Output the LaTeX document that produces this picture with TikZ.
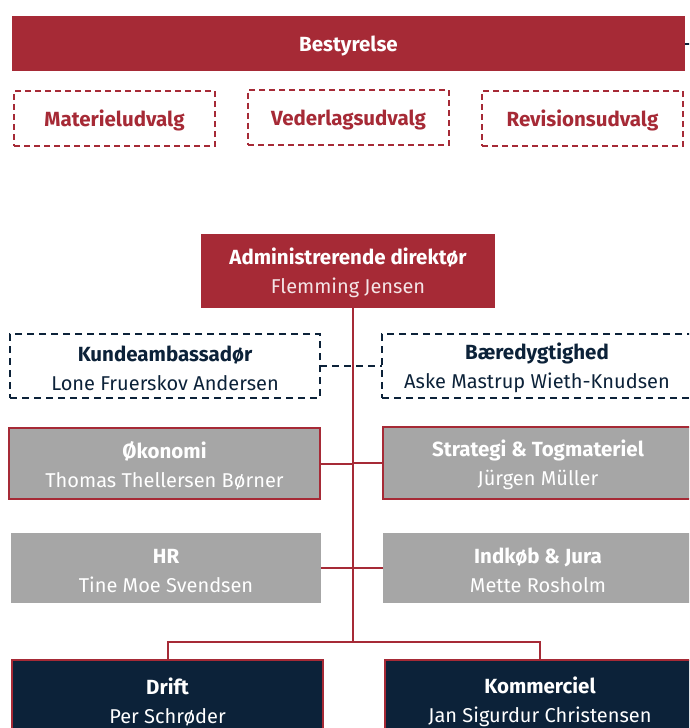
\documentclass[tikz,border=0pt]{standalone}
\usepackage{fontspec}
\setmainfont{Fira Sans}
\definecolor{dsbred}{HTML}{A62A36}
\definecolor{dsbgray}{HTML}{A6A6A6}
\definecolor{dsbnavy}{HTML}{0C2239}
\definecolor{namepink}{HTML}{F4E4E6}
\newcommand{\tstrut}{\rule{0pt}{21pt}}
\tikzset{
  box/.style={rectangle, inner sep=0pt, outer sep=0pt, align=center,
    font=\fontsize{20}{29}\selectfont},
  redbox/.style={box, fill=dsbred, text=white},
  comm/.style={box, draw=dsbred, dashed, dash pattern=on 6pt off 4pt, line width=2pt,
    text=dsbred, font=\fontsize{20.5}{24}\selectfont\bfseries},
  navydash/.style={box, draw=dsbnavy, dash pattern=on 7pt off 5pt, line width=2pt, text=dsbnavy},
  graybox/.style={box, fill=dsbgray, text=white},
  grayred/.style={graybox, draw=dsbred, line width=2.5pt},
  navybox/.style={box, fill=dsbnavy, draw=dsbred, line width=2.5pt, text=white},
  redline/.style={draw=dsbred, line width=2pt},
  dashline/.style={draw=dsbnavy, dash pattern=on 7pt off 5pt, line width=2pt},
}
\newcommand{\ttlfont}{\fontsize{20.5}{29}\selectfont\bfseries\tstrut}
\begin{document}
\begin{tikzpicture}[x=1pt,y=-1pt]
\clip (0,0) rectangle (689,728);
\fill[white] (0,0) rectangle (689,728);
% board
\node[redbox, minimum width=673pt, minimum height=55pt, font=\fontsize{20.5}{24}\selectfont\bfseries] (best) at (348.5,43.5) {\tstrut Bestyrelse};
\coordinate (bestout) at (700,43.5);
\draw[dsbnavy, line width=2pt] (best.east) -- (bestout);
\node[comm, minimum width=201pt, minimum height=55pt] (mat) at (114.5,118.5) {\tstrut Materieludvalg};
\node[comm, minimum width=201pt, minimum height=55pt] (ved) at (348.5,117) {\tstrut Vederlagsudvalg};
\node[comm, minimum width=201pt, minimum height=55pt] (rev) at (582.5,118.5) {\tstrut Revisionsudvalg};
% director
\node[redbox, minimum width=294pt, minimum height=74pt] (adm) at (348,271)
  {{\ttlfont Administrerende direktør}\\\textcolor{namepink}{Flemming Jensen}};
\node[navydash, minimum width=310pt, minimum height=64pt] (kunde) at (165,366)
  {{\ttlfont Kundeambassadør}\\Lone Fruerskov Andersen};
\node[navydash, minimum width=310pt, minimum height=64pt] (baere) at (537,366)
  {{\ttlfont Bæredygtighed}\\Aske Mastrup Wieth-Knudsen};
\node[grayred, minimum width=311pt, minimum height=71pt] (oek) at (164.5,463.5)
  {{\ttlfont Økonomi}\\Thomas Thellersen Børner};
\node[grayred, minimum width=310pt, minimum height=72pt] (strat) at (538,463)
  {{\ttlfont Strategi \& Togmateriel}\\Jürgen Müller};
\node[graybox, minimum width=310pt, minimum height=70pt] (hr) at (166,568)
  {{\ttlfont HR}\\Tine Moe Svendsen};
\node[graybox, minimum width=310pt, minimum height=70pt] (ind) at (538,568)
  {{\ttlfont Indkøb \& Jura}\\Mette Rosholm};
\node[navybox, minimum width=311pt, minimum height=80pt] (drift) at (167.5,700)
  {{\ttlfont Drift}\\Per Schrøder};
\node[navybox, minimum width=310pt, minimum height=80pt] (komm) at (540,700)
  {{\ttlfont Kommerciel}\\Jan Sigurdur Christensen};
% connectors
\coordinate (spinetop) at (353,308);
\coordinate (spine) at (353,642);
\draw[redline] (spinetop) -- (spine);
\draw[redline] (oek.east) -- (oek.east -| spine);
\draw[redline] (strat.west) -- (strat.west -| spine);
\draw[redline] (hr.east) -- (hr.east -| spine);
\draw[redline] (ind.west) -- (ind.west -| spine);
\draw[redline] (drift.north) |- (spine) -| (komm.north);
\draw[dashline] (kunde.east) -- (baere.west);
\end{tikzpicture}
\end{document}
